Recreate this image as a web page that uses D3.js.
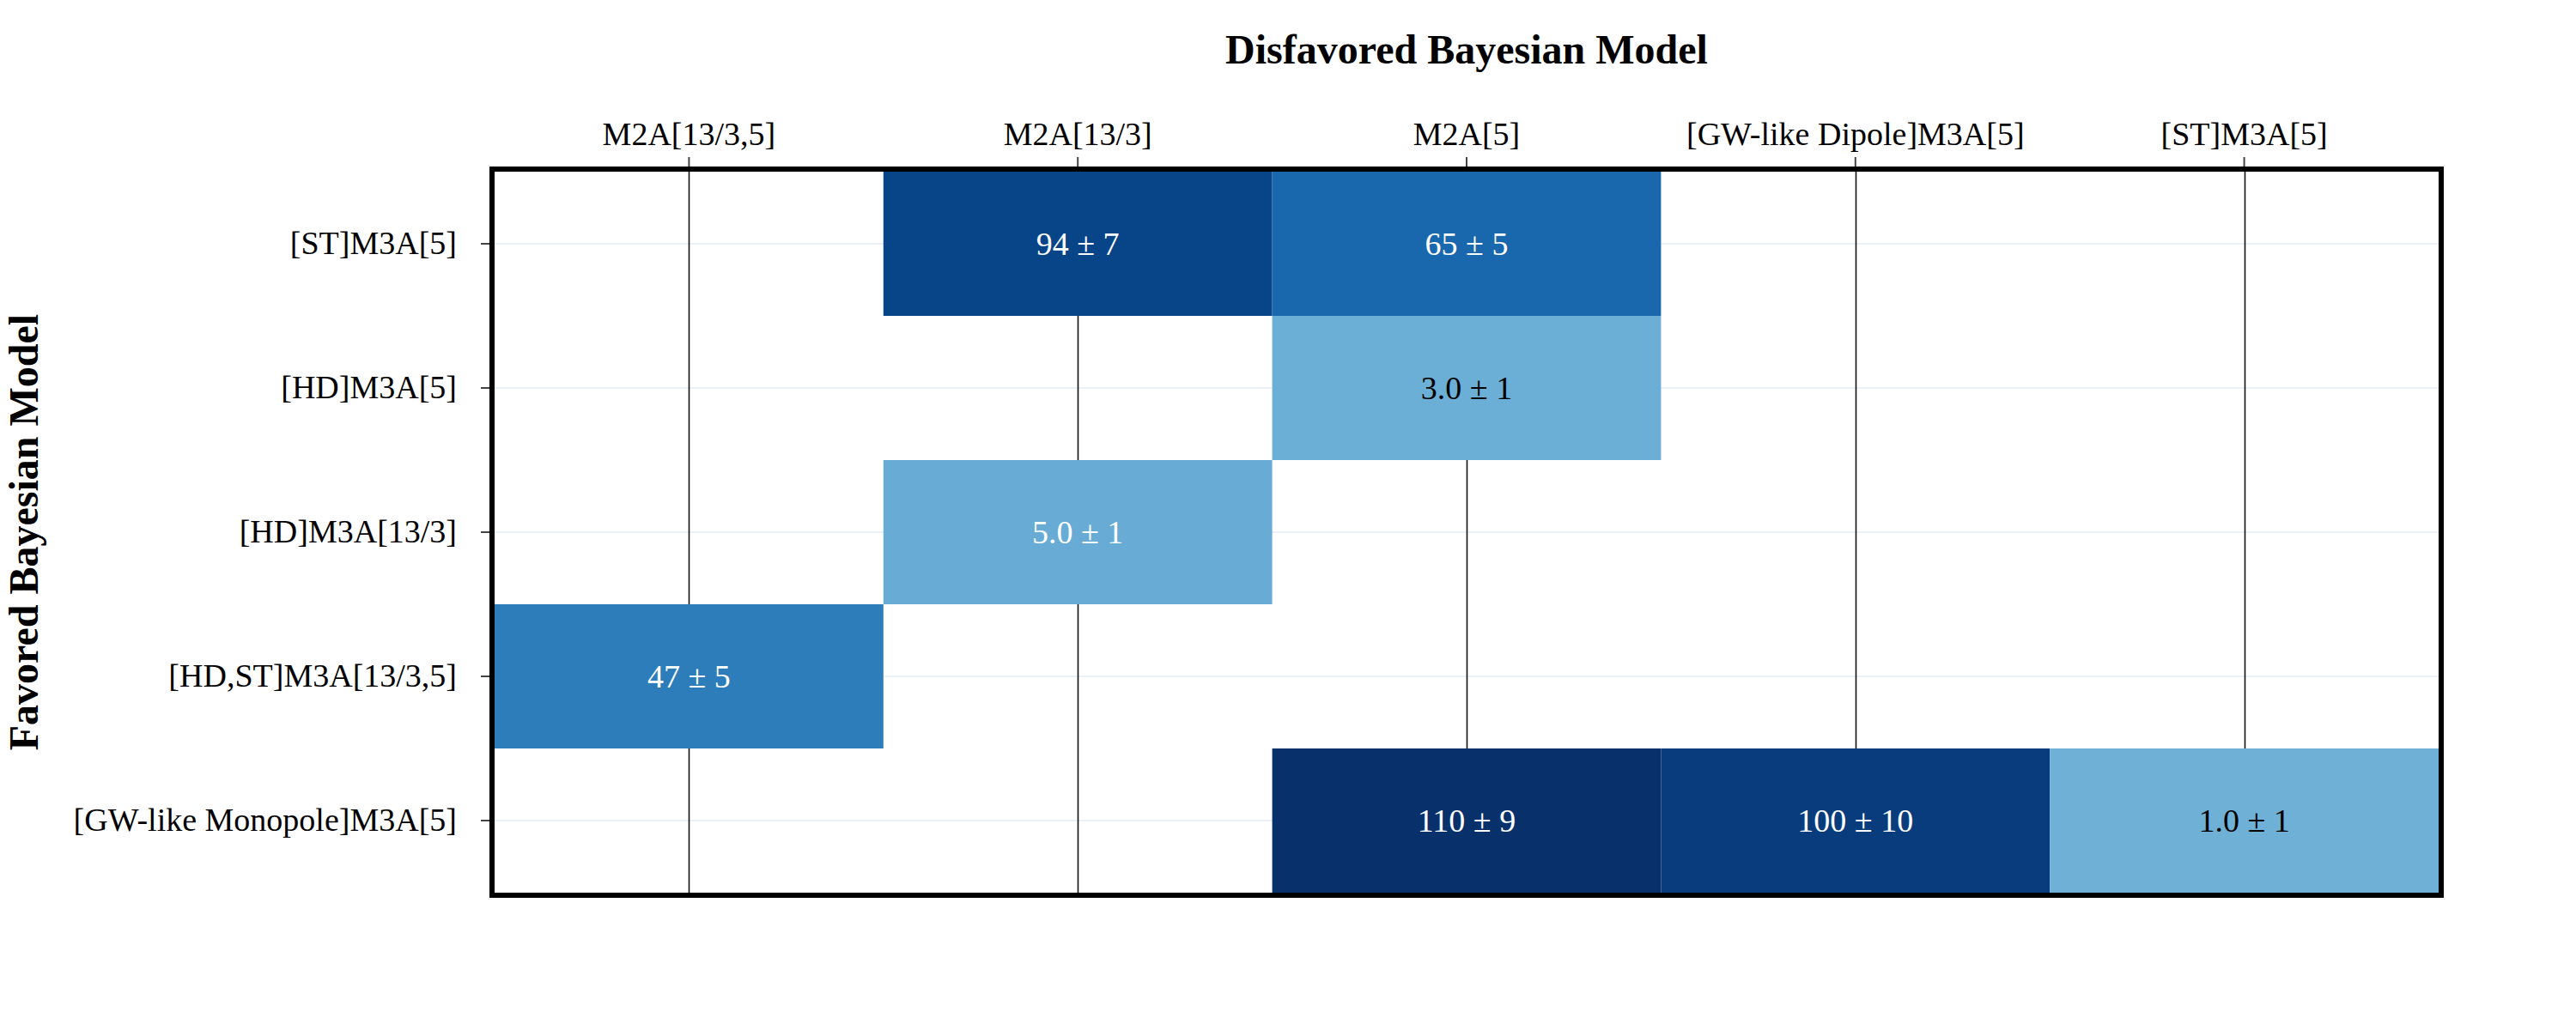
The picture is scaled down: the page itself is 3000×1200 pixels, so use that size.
<!DOCTYPE html>
<html lang="en">
<head>
    <meta charset="UTF-8">
    <title>Bayes Factor Heatmap</title>
    <style>
        body { margin: 0; background: #fff; }
        #chart { width: 3000px; height: 1200px; }
        text { font-family: "Liberation Serif", "Times New Roman", serif; }
    </style>
    <script src="https://d3js.org/d3.v7.min.js"></script>
</head>
<body>
    <div id="chart"></div>

    <script>
        // Disfavored models (columns) and favored models (rows)
        const xCategories = ["M2A[13/3,5]", "M2A[13/3]", "M2A[5]", "[GW-like Dipole]M3A[5]", "[ST]M3A[5]"];
        const yCategories = ["[ST]M3A[5]", "[HD]M3A[5]", "[HD]M3A[13/3]", "[HD,ST]M3A[13/3,5]", "[GW-like Monopole]M3A[5]"];

        // Bayes factor and its uncertainty, one row per favored model
        const bayesFactor = [
            [null, 94, 65, null, null],
            [null, null, 3.0, null, null],
            [null, 5.0, null, null, null],
            [47, null, null, null, null],
            [null, null, 110, 100, 1.0]
        ];
        const bayesError = [
            [null, 7, 5, null, null],
            [null, null, 1, null, null],
            [null, 1, null, null, null],
            [5, null, null, null, null],
            [null, null, 9, 10, 1]
        ];

        const xTitle = "Disfavored Bayesian Model";
        const yTitle = "Favored Bayesian Model";

        const blues = ["#f7fbff", "#deebf7", "#c6dbef", "#9ecae1", "#6baed6",
                       "#4292c6", "#2171b5", "#08519c", "#08306b"];

        const serif = '"Liberation Serif", "Times New Roman", serif';

        function drawChart() {
            const W = 3000, H = 1200;
            const plot = {left: 576, right: 2840, top: 200, bottom: 1040};

            const svg = d3.select('#chart').append('svg')
                .attr('width', W)
                .attr('height', H);

            svg.append('rect').attr('width', W).attr('height', H).attr('fill', '#fff');

            const x = d3.scaleBand().domain(xCategories).range([plot.left, plot.right]);
            const y = d3.scaleBand().domain(yCategories).range([plot.top, plot.bottom]);

            // colour scale runs from below zero, so small values sit mid-scale
            const zmin = -104, zmax = 110;
            const color = d3.scaleLinear()
                .domain(blues.map((c, i) => zmin + i * (zmax - zmin) / (blues.length - 1)))
                .range(blues)
                .interpolate(d3.interpolateRgb);
            const midL = d3.lab(blues[4]).l;

            // flatten to cells
            const cells = [];
            yCategories.forEach((row, i) => {
                xCategories.forEach((col, j) => {
                    if (bayesFactor[i][j] != null) {
                        cells.push({row, col, value: bayesFactor[i][j], err: bayesError[i][j]});
                    }
                });
            });

            // horizontal grid lines (light)
            svg.append('g').selectAll('line')
                .data(yCategories)
                .enter().append('line')
                  .attr('x1', plot.left).attr('x2', plot.right)
                  .attr('y1', d => y(d) + y.bandwidth() / 2)
                  .attr('y2', d => y(d) + y.bandwidth() / 2)
                  .attr('stroke', '#ebf0f8')
                  .attr('stroke-width', 2);

            // vertical grid lines (black)
            svg.append('g').selectAll('line')
                .data(xCategories)
                .enter().append('line')
                  .attr('y1', plot.top).attr('y2', plot.bottom)
                  .attr('x1', d => Math.round(x(d) + x.bandwidth() / 2) + 0.5)
                  .attr('x2', d => Math.round(x(d) + x.bandwidth() / 2) + 0.5)
                  .attr('stroke', '#111')
                  .attr('stroke-width', 1.6);

            // heatmap cells
            svg.append('g').selectAll('rect')
                .data(cells)
                .enter().append('rect')
                  .attr('x', d => x(d.col))
                  .attr('y', d => y(d.row))
                  .attr('width', x.bandwidth())
                  .attr('height', y.bandwidth())
                  .attr('fill', d => color(d.value));

            const fmtVal = d3.format('.2r');
            const fmtErr = d3.format('d');
            svg.append('g').selectAll('text')
                .data(cells)
                .enter().append('text')
                  .attr('x', d => x(d.col) + x.bandwidth() / 2)
                  .attr('y', d => y(d.row) + y.bandwidth() / 2)
                  .attr('dy', '0.35em')
                  .attr('text-anchor', 'middle')
                  .style('font-family', serif)
                  .style('font-size', '38px')
                  .attr('fill', d => d3.lab(color(d.value)).l < midL ? '#fff' : '#000')
                  .text(d => `${fmtVal(d.value)} ± ${fmtErr(d.err)}`);

            // frame
            svg.append('rect')
                .attr('x', plot.left - 3).attr('y', plot.top - 3)
                .attr('width', plot.right - plot.left + 6)
                .attr('height', plot.bottom - plot.top + 6)
                .attr('fill', 'none')
                .attr('stroke', '#000')
                .attr('stroke-width', 6);

            // top x-axis
            const xAxis = svg.append('g')
                .attr('transform', `translate(0, ${plot.top - 6})`)
                .call(d3.axisTop(x).tickSize(11).tickPadding(14));
            xAxis.select('.domain').remove();
            xAxis.selectAll('line').attr('stroke', '#444').attr('stroke-width', 2);
            xAxis.selectAll('text').style('font-size', '38px').attr('fill', '#000')
                .style('font-family', serif);

            // left y-axis
            const yAxis = svg.append('g')
                .attr('transform', `translate(${plot.left - 6}, 0)`)
                .call(d3.axisLeft(y).tickSize(10).tickPadding(28));
            yAxis.select('.domain').remove();
            yAxis.selectAll('line').attr('stroke', '#444').attr('stroke-width', 2);
            yAxis.selectAll('text').style('font-size', '38px').attr('fill', '#000')
                .style('font-family', serif);

            // axis titles
            svg.append('text')
                .attr('x', (plot.left + plot.right) / 2)
                .attr('y', 74)
                .attr('text-anchor', 'middle')
                .style('font-family', serif)
                .style('font-size', '48px')
                .style('font-weight', 'bold')
                .text(xTitle);

            svg.append('text')
                .attr('transform', `translate(44, ${(plot.top + plot.bottom) / 2}) rotate(-90)`)
                .attr('text-anchor', 'middle')
                .style('font-family', serif)
                .style('font-size', '48px')
                .style('font-weight', 'bold')
                .text(yTitle);
        }

        drawChart();
    </script>
</body>
</html>
